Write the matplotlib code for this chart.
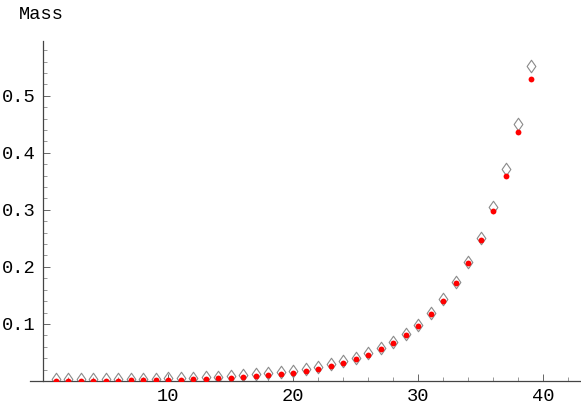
import matplotlib
matplotlib.use('Agg')
import matplotlib.pyplot as plt
from matplotlib.path import Path
from matplotlib.ticker import MultipleLocator

# data
x = list(range(1, 40))
mass = [0.0001, 0.0002, 0.0003, 0.0004, 0.0005, 0.0007, 0.0009, 0.0011, 0.0014, 0.0018,
        0.0024, 0.0029, 0.0035, 0.0048, 0.0060, 0.0075, 0.0088, 0.0105, 0.0125, 0.0146,
        0.0180, 0.0216, 0.0263, 0.0316, 0.0386, 0.0462, 0.0556, 0.0667, 0.0800, 0.0970,
        0.1170, 0.1410, 0.1710, 0.2060, 0.2470, 0.2980, 0.3600, 0.4370, 0.5300]
mass_ref = [0.0030, 0.0031, 0.0032, 0.0033, 0.0034, 0.0036, 0.0038, 0.0040, 0.0043, 0.0048,
            0.0055, 0.0060, 0.0066, 0.0078, 0.0090, 0.0105, 0.0118, 0.0135, 0.0155, 0.0176,
            0.0210, 0.0245, 0.0290, 0.0342, 0.0410, 0.0485, 0.0578, 0.0688, 0.0820, 0.0990,
            0.1195, 0.1440, 0.1740, 0.2090, 0.2510, 0.3050, 0.3720, 0.4510, 0.5530]

W, H = 581, 408
fig = plt.figure(figsize=(W / 100, H / 100), dpi=100)
ax = fig.add_axes([30 / W, 27 / H, (W - 30) / W, (381 - 41) / H])
ax.set_xlim(-1.04, 43.04)
ax.set_ylim(0, 0.596)

font = {'family': 'Liberation Mono', 'size': 13.5}

diamond = Path([(0, 1), (0.7, 0), (0, -1), (-0.7, 0), (0, 1)],
               [Path.MOVETO, Path.LINETO, Path.LINETO, Path.LINETO, Path.CLOSEPOLY])
ax.plot(x, mass_ref, ls='none', marker=diamond, markersize=9, mfc='none',
        mec='#8a8a8a', mew=0.8, zorder=2)
ax.plot(x, mass, ls='none', marker='o', markersize=4.2, color='#ff0000',
        mec='none', zorder=3)

for s in ['top', 'right']:
    ax.spines[s].set_visible(False)
ax.spines['left'].set_position(('data', 0))
ax.spines['bottom'].set_position(('data', 0))
for s in ['left', 'bottom']:
    ax.spines[s].set_color('#444444')
    ax.spines[s].set_linewidth(0.9)

ax.xaxis.set_minor_locator(MultipleLocator(2))
ax.yaxis.set_minor_locator(MultipleLocator(0.02))
ax.set_xticks([10, 20, 30, 40])
ax.set_xticklabels(['10', '20', '30', '40'], fontdict=font)
ax.set_yticks([0.1, 0.2, 0.3, 0.4, 0.5])
ax.set_yticklabels(['0.1', '0.2', '0.3', '0.4', '0.5'], fontdict=font)
ax.tick_params(which='major', direction='in', length=5, width=0.7, color='#666666', pad=5)
ax.tick_params(which='minor', direction='in', length=3, width=0.6, color='#888888')
ax.patch.set_visible(False)

fig.text(19 / W, 1 - 19 / H, 'Mass', fontdict=font, va='baseline', ha='left')

fig.savefig('out.png', dpi=100)
